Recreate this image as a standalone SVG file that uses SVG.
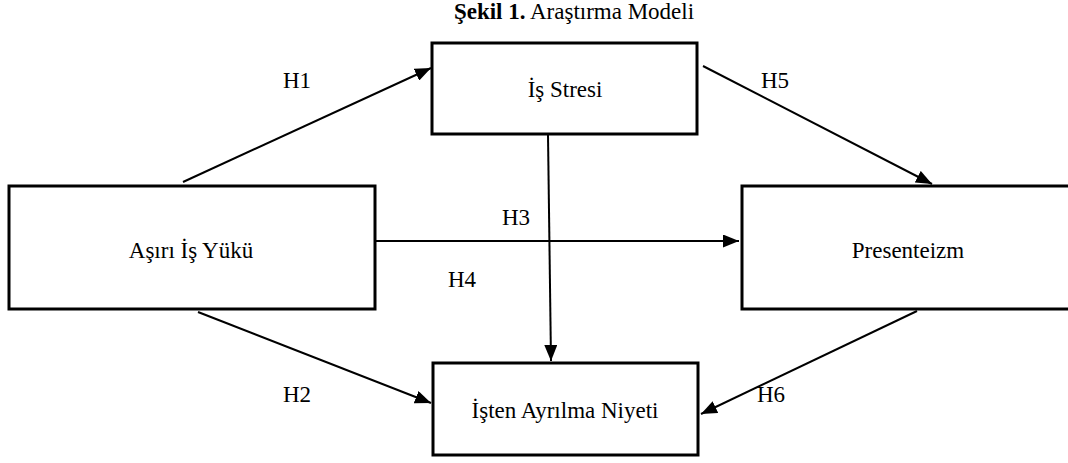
<svg xmlns="http://www.w3.org/2000/svg" width="1068" height="463" viewBox="0 0 1068 463">
<style>
.box{fill:#fff;stroke:#000;stroke-width:3}
.t{font-family:"Liberation Serif","DejaVu Serif","Times New Roman",serif;font-size:23px;fill:#000;text-anchor:middle}
.c{stroke:#000;stroke-width:2;fill:none}
</style>
<defs>
<marker id="ah" viewBox="0 0 10 10" refX="10" refY="5" markerWidth="16" markerHeight="13" markerUnits="userSpaceOnUse" orient="auto" preserveAspectRatio="none">
<path d="M0,0 L10,5 L0,10 z" fill="#000"/>
</marker>
</defs>
<rect width="1068" height="463" fill="#fff"/>
<text class="t" x="574" y="19" font-family="Liberation Serif, serif"><tspan font-weight="bold">Şekil 1.</tspan> Araştırma Modeli</text>
<g id="connectors">
<line class="c" x1="183" y1="182" x2="431" y2="68" marker-end="url(#ah)"/>
<line class="c" x1="198" y1="312" x2="431" y2="403" marker-end="url(#ah)"/>
<line class="c" x1="375" y1="241" x2="739" y2="241" marker-end="url(#ah)"/>
<line class="c" x1="548" y1="135" x2="551" y2="361" marker-end="url(#ah)"/>
<line class="c" x1="703" y1="66" x2="932" y2="184" marker-end="url(#ah)"/>
<line class="c" x1="917" y1="311" x2="701" y2="414" marker-end="url(#ah)"/>
</g>
<g id="labels">
<text class="t" x="297" y="88">H1</text>
<text class="t" x="775" y="88">H5</text>
<text class="t" x="516" y="225">H3</text>
<text class="t" x="462" y="287">H4</text>
<text class="t" x="297" y="402">H2</text>
<text class="t" x="771" y="402">H6</text>
</g>
<g id="is-stresi"><rect class="box" x="432" y="43" width="265" height="91"/><text class="t" x="565" y="97">İş Stresi</text></g>
<g id="asiri-is-yuku"><rect class="box" x="9" y="186" width="366" height="123"/><text class="t" x="191" y="258">Aşırı İş Yükü</text></g>
<g id="presenteizm"><rect class="box" x="742" y="186" width="340" height="123"/><text class="t" x="908" y="258">Presenteizm</text></g>
<g id="isten-ayrilma"><rect class="box" x="433" y="363" width="265" height="92"/><text class="t" x="565" y="418">İşten Ayrılma Niyeti</text></g>
</svg>
